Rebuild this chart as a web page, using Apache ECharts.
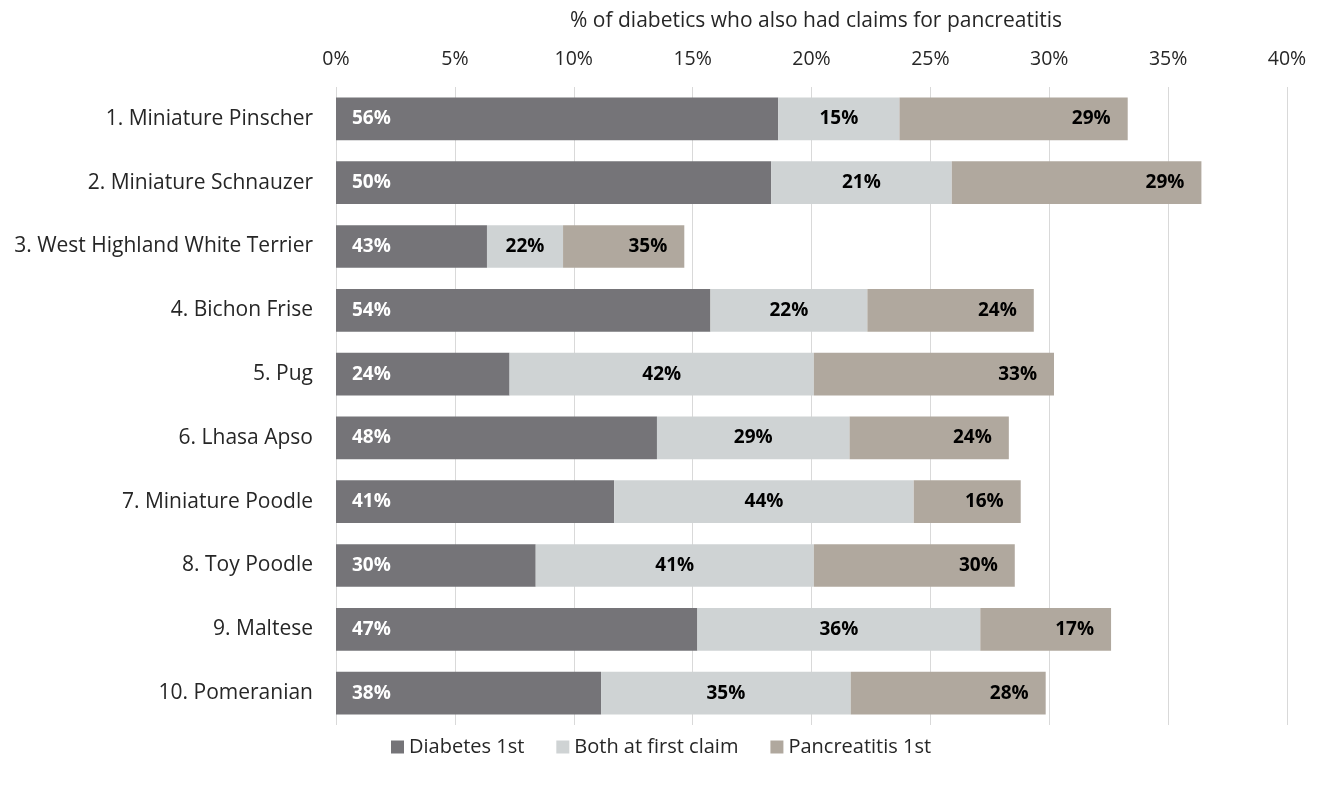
<!DOCTYPE html>
<html>
<head>
<meta charset="utf-8">
<script src="https://cdn.jsdelivr.net/npm/echarts@6/dist/echarts.min.js"></script>
<style>
html,body{margin:0;padding:0;background:#fff;}
#chart{width:1318px;height:788px;}
</style>
</head>
<body>
<div id="chart"></div>
<script>
const categories = ['1. Miniature Pinscher','2. Miniature Schnauzer','3. West Highland White Terrier','4. Bichon Frise','5. Pug','6. Lhasa Apso','7. Miniature Poodle','8. Toy Poodle','9. Maltese','10. Pomeranian'];
// bar lengths (% of diabetics who also had claims for pancreatitis)
const diabetesFirst = [18.6, 18.3, 6.35, 15.75, 7.3, 13.5, 11.7, 8.4, 15.2, 11.15];
const bothAtFirst   = [5.1, 7.6, 3.2, 6.6, 12.8, 8.1, 12.6, 11.7, 11.9, 10.5];
const pancFirst     = [9.6, 10.5, 5.1, 7.0, 10.1, 6.7, 4.5, 8.45, 5.5, 8.2];
// printed share labels
const diabetesLbl = [56, 50, 43, 54, 24, 48, 41, 30, 47, 38];
const bothLbl     = [15, 21, 22, 22, 42, 29, 44, 41, 36, 35];
const pancLbl     = [29, 29, 35, 24, 33, 24, 16, 30, 17, 28];
const xTicks = {min: 0, max: 40, interval: 5};

const font = 'Open Sans';
const chart = echarts.init(document.getElementById('chart'));
function mk(name, data, lbls, color, pos, lblColor, offset) {
  return {
    name, type: 'bar', stack: 'total', data,
    barCategoryGap: '33%',
    itemStyle: {color},
    emphasis: {disabled: true},
    label: {
      show: true, position: pos, offset: offset || [0,0],
      color: lblColor, fontFamily: font, fontWeight: 'bold', fontSize: 19,
      formatter: p => lbls[p.dataIndex] + '%'
    }
  };
}
chart.setOption({
  animation: false,
  title: {
    text: '% of diabetics who also had claims for pancreatitis',
    left: 811, top: 6, textAlign: 'center',
    textStyle: {fontFamily: font, fontSize: 21, fontWeight: 'normal', color: '#262626'}
  },
  legend: {
    bottom: 26, left: 386, itemWidth: 13, itemHeight: 13, itemGap: 32,
    icon: 'rect',
    textStyle: {fontFamily: font, fontSize: 20, color: '#262626'},
    data: ['Diabetes 1st', 'Both at first claim', 'Pancreatitis 1st']
  },
  grid: {left: 336, right: 31, top: 87, bottom: 63, containLabel: false},
  xAxis: {
    type: 'value', position: 'top', min: xTicks.min, max: xTicks.max, interval: xTicks.interval,
    axisLine: {show: false}, axisTick: {show: false},
    axisLabel: {formatter: '{value}%', fontFamily: font, fontSize: 19.5, color: '#262626', margin: 18},
    splitLine: {lineStyle: {color: '#D9D9D9', width: 1}}
  },
  yAxis: {
    type: 'category', data: categories, inverse: true,
    axisLine: {show: false}, axisTick: {show: false},
    axisLabel: {fontFamily: font, fontSize: 21, color: '#262626', margin: 23}
  },
  series: [
    mk('Diabetes 1st', diabetesFirst, diabetesLbl, '#757478', 'insideLeft', '#ffffff', [11,0]),
    mk('Both at first claim', bothAtFirst, bothLbl, '#CFD3D4', 'inside', '#000000'),
    mk('Pancreatitis 1st', pancFirst, pancLbl, '#B0A89E', 'insideRight', '#000000', [-12,0])
  ]
});
</script>
</body>
</html>
